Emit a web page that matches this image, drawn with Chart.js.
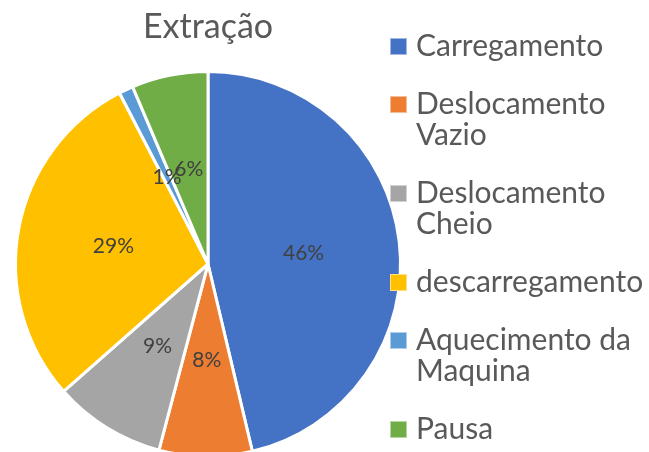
<!DOCTYPE html>
<html>
<head>
<meta charset="utf-8">
<script src="https://cdn.jsdelivr.net/npm/chart.js@4.4.1/dist/chart.umd.min.js"></script>
<style>
  html, body { margin: 0; padding: 0; background: #fff; overflow: hidden; }
  #wrap { width: 649px; height: 452px; overflow: hidden; }
</style>
</head>
<body>
<div id="wrap"><canvas id="piechart" width="649" height="470"></canvas></div>
<script>
const title = 'Extração';
const categories = ['Carregamento', 'Deslocamento\nVazio', 'Deslocamento\nCheio', 'descarregamento', 'Aquecimento da\nMaquina', 'Pausa'];
const shares = [46.3, 7.8, 9.4, 28.9, 1.2, 6.4];
const colors = ['#4472C4', '#ED7D31', '#A5A5A5', '#FFC000', '#5B9BD5', '#70AD47'];

const FONT = 'Lato, "Open Sans", sans-serif';

// percentage text at half radius on each slice
const percentLabels = {
  id: 'percentLabels',
  afterDatasetsDraw(chart) {
    const ctx = chart.ctx;
    const meta = chart.getDatasetMeta(0);
    const total = shares.reduce((a, b) => a + b, 0);
    ctx.save();
    ctx.font = '21px ' + FONT;
    ctx.fillStyle = '#404040';
    ctx.textAlign = 'center';
    ctx.textBaseline = 'middle';
    meta.data.forEach((arc, i) => {
      const { x, y, startAngle, endAngle, outerRadius } = arc.getProps(['x', 'y', 'startAngle', 'endAngle', 'outerRadius'], true);
      const mid = (startAngle + endAngle) / 2;
      const r = outerRadius * 0.5;
      ctx.fillText(Math.round(shares[i] / total * 100) + '%', x + Math.cos(mid) * r, y + Math.sin(mid) * r);
    });
    ctx.restore();
  }
};

// legend on the right, labels can wrap onto two lines
const sideLegend = {
  id: 'sideLegend',
  afterDraw(chart) {
    const ctx = chart.ctx;
    ctx.save();
    ctx.font = '30px ' + FONT;
    ctx.textBaseline = 'middle';
    let y = 46.5;
    categories.forEach((label, i) => {
      const lines = label.split('\n');
      ctx.fillStyle = colors[i];
      ctx.fillRect(390, y - 8.5, 17, 17);
      ctx.strokeStyle = 'rgba(255,255,255,0.5)';
      ctx.lineWidth = 1;
      ctx.strokeRect(390.5, y - 8, 16, 16);
      ctx.fillStyle = '#595959';
      lines.forEach((line, j) => ctx.fillText(line, 416, y + j * 31));
      y += (lines.length - 1) * 31 + 58;
    });
    ctx.restore();
  }
};

new Chart(document.getElementById('piechart'), {
  type: 'pie',
  data: {
    labels: categories,
    datasets: [{
      data: shares,
      backgroundColor: colors,
      borderColor: '#ffffff',
      borderWidth: 3
    }]
  },
  options: {
    responsive: false,
    animation: false,
    events: [],
    layout: { padding: { top: 0, left: 14, right: 247, bottom: 12 } },
    plugins: {
      legend: { display: false },
      tooltip: { enabled: false },
      title: {
        display: true,
        text: title,
        color: '#595959',
        font: { family: FONT, size: 34, weight: 'normal' },
        padding: { top: 7, bottom: 22.2 }
      }
    }
  },
  plugins: [percentLabels, sideLegend]
});
</script>
</body>
</html>
